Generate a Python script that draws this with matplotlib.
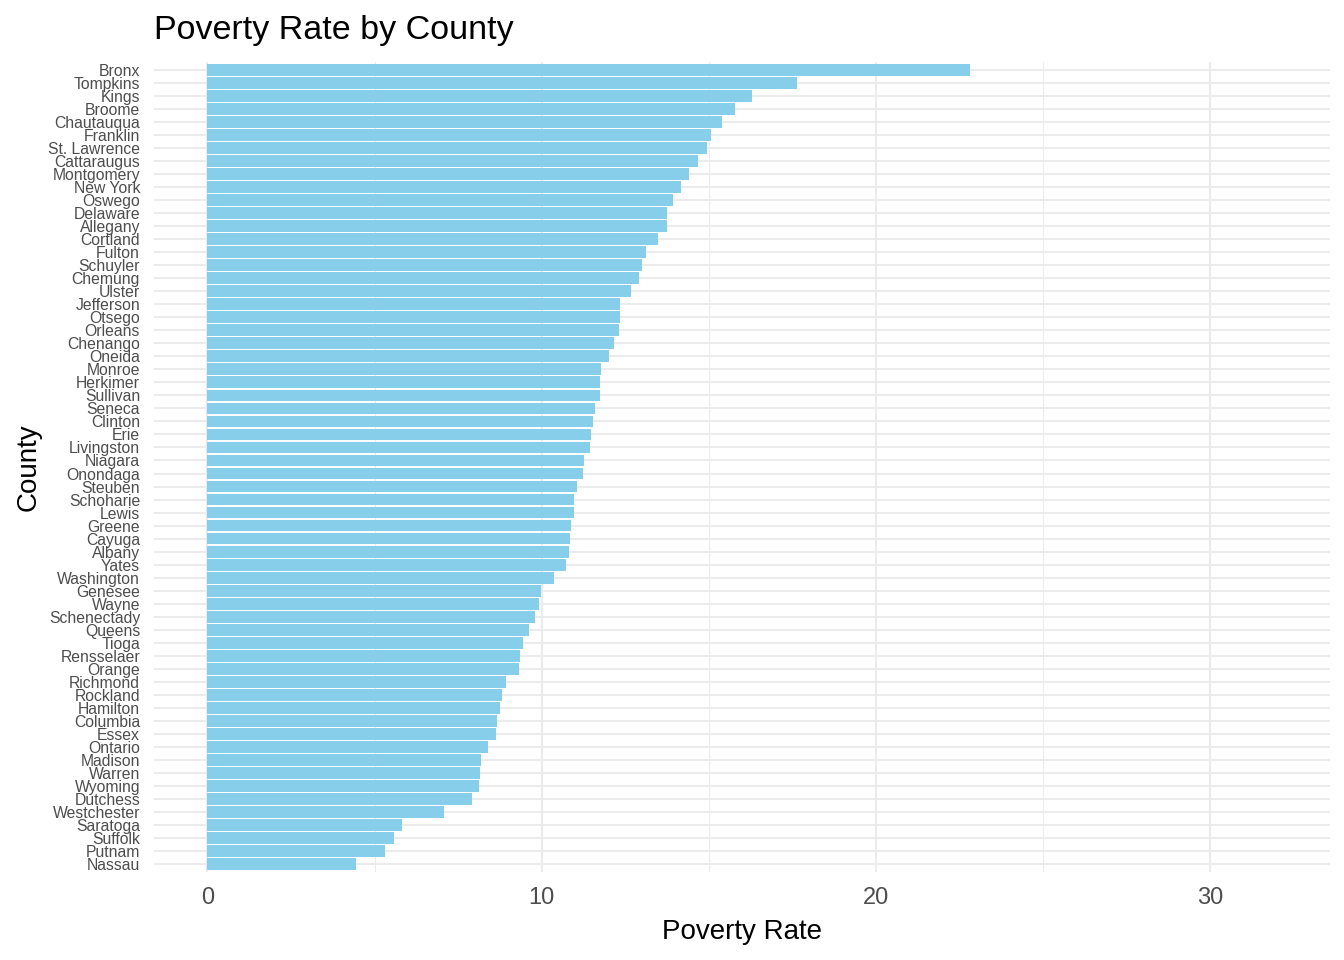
import matplotlib
matplotlib.use("Agg")
import matplotlib.pyplot as plt
from matplotlib.ticker import MultipleLocator

plt.rcParams['font.family'] = ['Liberation Sans', 'DejaVu Sans']

counties = ['Bronx', 'Tompkins', 'Kings', 'Broome', 'Chautauqua', 'Franklin',
            'St. Lawrence', 'Cattaraugus', 'Montgomery', 'New York', 'Oswego',
            'Delaware', 'Allegany', 'Cortland', 'Fulton', 'Schuyler', 'Chemung',
            'Ulster', 'Jefferson', 'Otsego', 'Orleans', 'Chenango', 'Oneida',
            'Monroe', 'Herkimer', 'Sullivan', 'Seneca', 'Clinton', 'Erie',
            'Livingston', 'Niagara', 'Onondaga', 'Steuben', 'Schoharie', 'Lewis',
            'Greene', 'Cayuga', 'Albany', 'Yates', 'Washington', 'Genesee',
            'Wayne', 'Schenectady', 'Queens', 'Tioga', 'Rensselaer', 'Orange',
            'Richmond', 'Rockland', 'Hamilton', 'Columbia', 'Essex', 'Ontario',
            'Madison', 'Warren', 'Wyoming', 'Dutchess', 'Westchester', 'Saratoga',
            'Suffolk', 'Putnam', 'Nassau']
poverty = [22.81, 17.64, 16.30, 15.79, 15.40, 15.08,
           14.95, 14.69, 14.40, 14.18, 13.94,
           13.77, 13.77, 13.49, 13.14, 13.01, 12.93,
           12.69, 12.36, 12.36, 12.31, 12.16, 12.01,
           11.77, 11.74, 11.74, 11.59, 11.53, 11.47,
           11.44, 11.26, 11.23, 11.05, 10.96, 10.96,
           10.87, 10.84, 10.81, 10.72, 10.36, 9.97,
           9.91, 9.80, 9.62, 9.44, 9.35, 9.32,
           8.93, 8.81, 8.75, 8.66, 8.63, 8.39,
           8.18, 8.15, 8.12, 7.91, 7.09, 5.83,
           5.59, 5.32, 4.45]
x_ticks = [0, 10, 20, 30]

fig = plt.figure(figsize=(13.44, 9.6), dpi=100)
ax = fig.add_axes([154/1344, 1 - 872/960, (1330-154)/1344, (872-62)/960])

n = len(counties)
ypos = list(range(n))
ax.barh(ypos, poverty, height=0.9, color='#87CEEB', zorder=2)

ax.set_ylim(n - 1 + 0.6, -0.6)
ax.set_xlim(-1.6, 33.6)
ax.set_yticks(ypos)
ax.set_yticklabels(counties, fontsize=11.3, color='#4D4D4D')
ax.set_xticks(x_ticks)
ax.set_xticklabels([str(t) for t in x_ticks], fontsize=17, color='#4D4D4D')
ax.xaxis.set_minor_locator(MultipleLocator(5))

ax.grid(True, which='major', axis='both', color='#EBEBEB', linewidth=1.5, zorder=0)
ax.grid(True, which='minor', axis='x', color='#EBEBEB', linewidth=0.75, zorder=0)
ax.tick_params(which='both', length=0)
ax.tick_params(axis='y', pad=10)
ax.tick_params(axis='x', pad=11)
for s in ax.spines.values():
    s.set_visible(False)

ax.set_xlabel('Poverty Rate', fontsize=20, labelpad=7)
ax.set_ylabel('County', fontsize=20, labelpad=4.5)
fig.text(154/1344, 1 - 30/960, 'Poverty Rate by County', fontsize=24.5,
         ha='left', va='center')

fig.savefig('out.png', dpi=100)
